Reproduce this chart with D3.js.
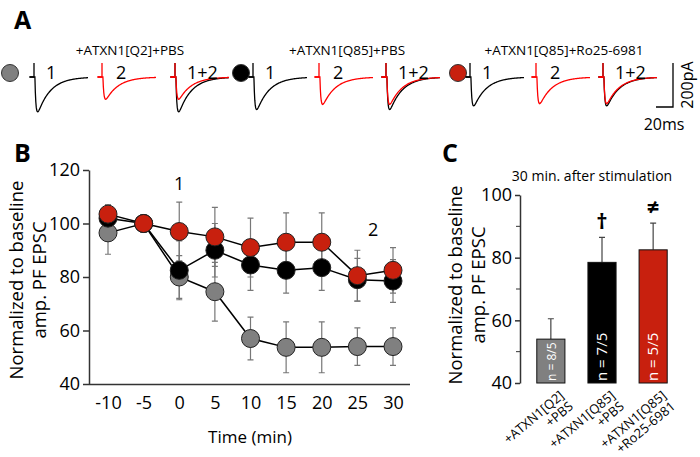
<!DOCTYPE html>
<html><head><meta charset="utf-8">
<script src="https://cdn.jsdelivr.net/npm/d3@7"></script>
<style>body{margin:0;background:#fff}text{font-family:"Open Sans",Lato,sans-serif}</style>
</head><body><svg id="c" width="700" height="457"></svg>
<script>
// ---------- data ----------
const times = [-10,-5,0,5,10,15,20,25,30];
const grayMean = [96.5,100,80,74.5,57,53.7,53.7,54,54];
const grayErr  = [8,2,8,11,8,9.5,9.5,7,7];
const blackMean= [102,100,82.5,90,84.5,82.5,83.5,79,78.5];
const blackErr = [5,2,11,10,9.5,8.5,8.5,8,8];
const redMean  = [103.5,100,97,95,91,93,93,80.5,82.5];
const redErr   = [3.5,2,11,11,11,11,11,9.5,8.5];
const yTicksB = [40,60,80,100,120];
const barCats = ["+ATXN1[Q2]|+PBS","+ATXN1[Q85]|+PBS","+ATXN1[Q85]|+Ro25-6981"];
const barVals = [54,78.5,82.5];
const barErrs = [6.5,8,8.5];
const barN = ["n = 8/5","n = 7/5","n = 5/5"];
const barSym = ["","\u2020","\u2260"];
const yTicksC = [40,60,80,100];
const groupTitles = ["+ATXN1[Q2]+PBS","+ATXN1[Q85]+PBS","+ATXN1[Q85]+Ro25-6981"];
const trace1Amp = [47,44,39];   // pixels, recording 1
const trace2Amp = [30,37,36];   // pixels, recording 2
const colors = {gray:"#808080",black:"#000000",red:"#c8200e"};
const F = "'Open Sans', sans-serif";

const svg = d3.select("#c");
[["A",14,29],["B",14,162],["C",442,162]].forEach(([t,x,y])=>
  svg.append("text").attr("x",x).attr("y",y).attr("font-size",25).attr("font-weight","bold").attr("font-family","Liberation Sans, Arial").text(t));

// ---------- Panel A ----------
const groupX = [10,241,458];
const groupFill = [colors.gray,colors.black,colors.red];
const base = 77;
const tsc = d3.scaleLinear().domain([0,60]).range([0,54]);
function tracePts(amp){
  const pts=[];
  for(let t=-5;t<=60;t+=0.5){
    let v=0;
    if(t>=1) v = amp*(1-Math.exp(-(t-1)/1.2))*Math.exp(-(t-1)/14);
    pts.push([t,v]);
  }
  return pts;
}
function drawTrace(g,x0,amp,col){
  const gg = g.append("g").attr("transform",`translate(${x0},0)`);
  const l = d3.line().x(d=>tsc(d[0])).y(d=>base+d[1]);
  gg.append("path").attr("d",l(tracePts(amp))).attr("fill","none").attr("stroke",col).attr("stroke-width",1.3);
  gg.append("path").attr("d",`M${tsc(-5)},${base}H${tsc(0)}V${base-14}V${base}`).attr("fill","none").attr("stroke",col).attr("stroke-width",1.3);
}
groupX.forEach((gx,i)=>{
  const g = svg.append("g");
  g.append("circle").attr("cx",gx).attr("cy",73).attr("r",8.5).attr("fill",groupFill[i]).attr("stroke","#333").attr("stroke-width",1);
  const offs = i===0?[24,92,165]:[12,78,145];
  drawTrace(g,gx+offs[0],trace1Amp[i],"#000");
  drawTrace(g,gx+offs[1],trace2Amp[i],"red");
  drawTrace(g,gx+offs[2],trace1Amp[i],"#000");
  drawTrace(g,gx+offs[2],trace2Amp[i],"red");
  [["1",offs[0]+12],["2",offs[1]+14],["1+2",offs[2]+12]].forEach(([t,x])=>
    g.append("text").attr("x",gx+x).attr("y",79).attr("font-size",18).attr("font-family",F).text(t));
  g.append("text").attr("x",gx+offs[1]+28).attr("y",55).attr("text-anchor","middle").attr("font-size",13.5).attr("font-family",F).text(groupTitles[i]);
});
svg.append("path").attr("d","M656,107H673V63").attr("fill","none").attr("stroke","#000").attr("stroke-width",1.3);
svg.append("text").attr("x",664).attr("y",130).attr("text-anchor","middle").attr("font-size",16).attr("font-family",F).text("20ms");
svg.append("text").attr("transform","translate(693,85) rotate(-90)").attr("text-anchor","middle").attr("font-size",16).attr("font-family",F).text("200pA");

// ---------- Panel B ----------
const xB = d3.scalePoint().domain(times).range([108,393]);
const yB = d3.scaleLinear().domain([40,120]).range([384,170]);
const gB = svg.append("g");
const styleAx = g=>{g.selectAll("text").attr("font-size",18).attr("font-family",F).attr("fill","#000");g.select(".domain").attr("stroke","#333").attr("stroke-width",1.5);g.selectAll("line").attr("stroke","#333").attr("stroke-width",1.5);};
gB.append("g").attr("transform","translate(89,0)").call(d3.axisLeft(yB).tickValues(yTicksB).tickSize(6).tickSizeOuter(0)).call(styleAx);
gB.append("g").attr("transform","translate(0,384)").call(d3.axisBottom(xB).tickSize(0).tickSizeOuter(0).tickPadding(12))
  .call(styleAx).call(g=>g.select(".domain").attr("d","M89,0.5H410"));
const series = [[grayMean,grayErr,colors.gray],[blackMean,blackErr,colors.black],[redMean,redErr,colors.red]];
series.forEach(([m,e])=>{
  times.forEach((t,i)=>{
    const x=xB(t);
    gB.append("path").attr("d",`M${x},${yB(m[i]-e[i])}V${yB(m[i]+e[i])}M${x-3},${yB(m[i]-e[i])}H${x+3}M${x-3},${yB(m[i]+e[i])}H${x+3}`).attr("stroke","#777").attr("stroke-width",1.2);
  });
});
series.forEach(([m,e,c])=>{
  gB.append("path").attr("d",d3.line().x((d,i)=>xB(times[i])).y(d=>yB(d))(m)).attr("fill","none").attr("stroke","#000").attr("stroke-width",1.5);
  times.forEach((t,i)=>gB.append("circle").attr("cx",xB(t)).attr("cy",yB(m[i])).attr("r",9).attr("fill",c).attr("stroke","#222").attr("stroke-width",1));
});
gB.append("text").attr("x",xB(0)).attr("y",190).attr("text-anchor","middle").attr("font-size",18).attr("font-family",F).text("1");
gB.append("text").attr("x",(xB(25)+xB(30))/2-2).attr("y",236).attr("text-anchor","middle").attr("font-size",18).attr("font-family",F).text("2");
gB.append("text").attr("x",250).attr("y",443).attr("text-anchor","middle").attr("font-size",17).attr("font-family",F).text("Time (min)");
gB.append("text").attr("transform","translate(23,280) rotate(-90)").attr("text-anchor","middle").attr("font-size",18.5).attr("font-family",F).text("Normalized to baseline");
gB.append("text").attr("transform","translate(46,280) rotate(-90)").attr("text-anchor","middle").attr("font-size",18.5).attr("font-family",F).text("amp. PF EPSC");

// ---------- Panel C ----------
const xC = d3.scaleBand().domain(barCats).range([524,680]).paddingInner(0.45).paddingOuter(0.25);
const yC = d3.scaleLinear().domain([40,100]).range([383,195]);
const gC = svg.append("g");
gC.append("g").attr("transform","translate(520,0)").call(d3.axisLeft(yC).tickValues(yTicksC).tickSize(5).tickSizeOuter(0)).call(styleAx);
gC.selectAll("line.minor").data([50,70,90]).join("line").attr("class","minor").attr("x1",516).attr("x2",520).attr("y1",d=>yC(d)).attr("y2",d=>yC(d)).attr("stroke","#333");
const barFill=[colors.gray,colors.black,colors.red];
barCats.forEach((c,i)=>{
  const x=xC(c), w=xC.bandwidth(), cx=x+w/2;
  gC.append("path").attr("d",`M${cx},${yC(barVals[i])}V${yC(barVals[i]+barErrs[i])}M${cx-3},${yC(barVals[i]+barErrs[i])}H${cx+3}`).attr("stroke","#444").attr("stroke-width",1.2);
  gC.append("rect").attr("x",x).attr("y",yC(barVals[i])).attr("width",w).attr("height",yC(40)-yC(barVals[i])).attr("fill",barFill[i]).attr("stroke","#111").attr("stroke-width",1);
  gC.append("text").attr("transform",`translate(${cx+5},${381}) rotate(-90)`).attr("fill","#fff").attr("font-size",i===0?12:15).attr("font-family",F).text(barN[i]);
  if(barSym[i]) gC.append("text").attr("x",cx).attr("y",yC(barVals[i]+barErrs[i])-8).attr("text-anchor","middle").attr("font-size",22).attr("font-weight","bold").text(barSym[i]);
  const parts=c.split("|");
  const t=gC.append("text").attr("transform",`translate(${cx+14},${397}) rotate(-40)`).attr("text-anchor","end").attr("font-size",13).attr("font-family",F);
  t.append("tspan").attr("x",0).attr("dy",0).text(parts[0]);
  t.append("tspan").attr("x",0).attr("dy",14).text(parts[1]);
});
gC.append("text").attr("x",592).attr("y",181).attr("text-anchor","middle").attr("font-size",14).attr("font-family",F).text("30 min. after stimulation");
gC.append("text").attr("transform","translate(462,285) rotate(-90)").attr("text-anchor","middle").attr("font-size",18.5).attr("font-family",F).text("Normalized to baseline");
gC.append("text").attr("transform","translate(485,285) rotate(-90)").attr("text-anchor","middle").attr("font-size",18.5).attr("font-family",F).text("amp. PF EPSC");
</script></body></html>
